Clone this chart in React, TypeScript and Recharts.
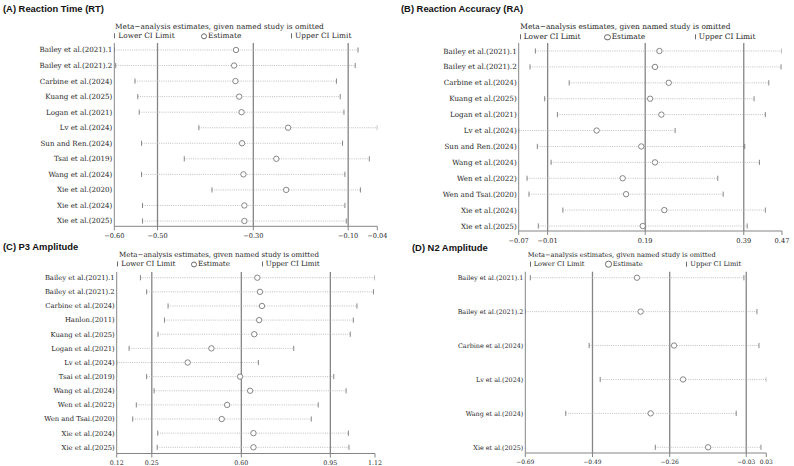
import React from 'react';
import { ScatterChart, Scatter, XAxis, YAxis, ReferenceLine } from 'recharts';

const SERIF = '"DejaVu Serif", serif';
const SANS = '"Liberation Sans", Arial, sans-serif';

// (A) Reaction Time (RT)
const rtStudies = [
  'Bailey et al.(2021).1', 'Bailey et al.(2021).2', 'Carbine et al.(2024)', 'Kuang et al.(2025)',
  'Logan et al.(2021)', 'Lv et al.(2024)', 'Sun and Ren.(2024)', 'Tsai et al.(2019)',
  'Wang et al.(2024)', 'Xie et al.(2020)', 'Xie et al.(2024)', 'Xie et al.(2025)',
];
const rtLower = [-0.596, -0.593, -0.552, -0.546, -0.543, -0.416, -0.538, -0.447, -0.538, -0.388, -0.536, -0.536];
const rtEstimate = [-0.337, -0.341, -0.338, -0.330, -0.325, -0.226, -0.324, -0.251, -0.321, -0.230, -0.319, -0.319];
const rtUpper = [-0.077, -0.083, -0.123, -0.115, -0.107, -0.036, -0.110, -0.053, -0.105, -0.072, -0.105, -0.102];
const rtTicks = [-0.596, -0.504, -0.3, -0.098, -0.036];
const rtTickLabels = ['−0.60', '−0.50', '−0.30', '−0.10', '−0.04'];

// (B) Reaction Accuracy (RA)
const raStudies = [
  'Bailey et al.(2021).1', 'Bailey et al.(2021).2', 'Carbine et al.(2024)', 'Kuang et al.(2025)',
  'Logan et al.(2021)', 'Lv et al.(2024)', 'Sun and Ren.(2024)', 'Wang et al.(2024)',
  'Wen et al.(2022)', 'Wen and Tsai.(2020)', 'Xie et al.(2024)', 'Xie et al.(2025)',
];
const raLower = [-0.034, -0.045, 0.035, -0.015, 0.011, -0.068, -0.030, -0.002, -0.051, -0.047, 0.022, -0.028];
const raEstimate = [0.219, 0.210, 0.238, 0.200, 0.223, 0.091, 0.182, 0.210, 0.144, 0.151, 0.229, 0.185];
const raUpper = [0.469, 0.467, 0.442, 0.412, 0.435, 0.251, 0.393, 0.423, 0.338, 0.349, 0.435, 0.398];
const raTicks = [-0.068, -0.009, 0.19, 0.391, 0.469];
const raTickLabels = ['−0.07', '−0.01', '0.19', '0.39', '0.47'];

// (C) P3 Amplitude
const p3Studies = [
  'Bailey et al.(2021).1', 'Bailey et al.(2021).2', 'Carbine et al.(2024)', 'Hanlon.(2011)',
  'Kuang et al.(2025)', 'Logan et al.(2021)', 'Lv et al.(2024)', 'Tsai et al.(2019)',
  'Wang et al.(2024)', 'Wen et al.(2022)', 'Wen and Tsai.(2020)', 'Xie et al.(2024)', 'Xie et al.(2025)',
];
const p3Lower = [0.209, 0.233, 0.316, 0.302, 0.277, 0.165, 0.117, 0.233, 0.262, 0.193, 0.179, 0.276, 0.274];
const p3Estimate = [0.662, 0.672, 0.680, 0.669, 0.650, 0.484, 0.392, 0.595, 0.634, 0.545, 0.524, 0.647, 0.647];
const p3Upper = [1.118, 1.112, 1.048, 1.034, 1.022, 0.803, 0.666, 0.958, 1.006, 0.898, 0.871, 1.015, 1.017];
const p3Ticks = [0.117, 0.253, 0.6, 0.945, 1.118];
const p3TickLabels = ['0.12', '0.25', '0.60', '0.95', '1.12'];

// (D) N2 Amplitude
const n2Studies = [
  'Bailey et al.(2021).1', 'Bailey et al.(2021).2', 'Carbine et al.(2024)',
  'Lv et al.(2024)', 'Wang et al.(2024)', 'Xie et al.(2025)',
];
const n2Lower = [-0.677, -0.692, -0.501, -0.468, -0.571, -0.303];
const n2Estimate = [-0.358, -0.347, -0.247, -0.220, -0.317, -0.145];
const n2Upper = [-0.038, 0.001, 0.007, 0.029, -0.061, 0.013];
const n2Ticks = [-0.692, -0.491, -0.26, -0.031, 0.029];
const n2TickLabels = ['−0.69', '−0.49', '−0.26', '−0.03', '0.03'];

type Box = { x: number; y: number; w: number; h: number };
type Plot = { l: number; r: number; t: number; b: number };
type Leg = { tx: number; ty: number; iy: number; lo: number; es: number; up: number };

type PanelProps = {
  title: string;
  titleX: number;
  titleY: number;
  studies: string[];
  lower: number[];
  estimate: number[];
  upper: number[];
  ticks: number[];
  tickLabels: string[];
  box: Box;
  plot: Plot;
  pad: { top: number; bottom: number };
  leg: Leg;
  fs: number;
};

const LINE = '#858585';
const MARK = '#6a6a6a';
const TEXT = '#262626';

const LimitMark = (props: any) => {
  const { cx, cy } = props;
  return <line x1={cx} x2={cx} y1={cy - 2.6} y2={cy + 2.6} stroke={MARK} strokeWidth={0.8} />;
};

const EstMark = (props: any) => {
  const { cx, cy } = props;
  return <circle cx={cx} cy={cy} r={2.7} fill="#fff" stroke={MARK} strokeWidth={0.8} />;
};

function Panel(p: PanelProps) {
  const { box, plot, studies } = p;
  const rows = studies.map((s, i) => ({ s, i }));
  const lowPts = p.lower.map((x, i) => ({ x, y: i }));
  const estPts = p.estimate.map((x, i) => ({ x, y: i }));
  const upPts = p.upper.map((x, i) => ({ x, y: i }));
  const legFs = p.fs * 1.04;

  const StudyTick = (t: any) => (
    <text
      x={plot.l - box.x - 2}
      y={t.y}
      dy="0.35em"
      textAnchor="end"
      fontFamily={SERIF}
      fontSize={p.fs}
      fill={TEXT}
    >
      {studies[t.payload.value]}
    </text>
  );

  return (
    <>
      <div
        style={{
          position: 'absolute', left: p.titleX, top: p.titleY, transform: 'translateY(-50%)',
          fontFamily: SANS, fontWeight: 700, fontSize: 9.4, color: '#111', whiteSpace: 'nowrap', lineHeight: 1,
        }}
      >
        {p.title}
      </div>
      <div style={{ position: 'absolute', left: box.x, top: box.y }}>
        <ScatterChart
          width={box.w}
          height={box.h}
          margin={{ top: plot.t - box.y, right: box.x + box.w - plot.r, left: 0, bottom: 0 }}
        >
          <XAxis
            type="number"
            dataKey="x"
            domain={[p.ticks[0], p.ticks[p.ticks.length - 1]]}
            ticks={p.ticks}
            tickFormatter={(_v: number, i: number) => p.tickLabels[i]}
            interval={0}
            height={box.y + box.h - plot.b}
            axisLine={{ stroke: LINE, strokeWidth: 1 }}
            tickLine={{ stroke: LINE }}
            tickSize={4}
            tickMargin={3}
            tick={{ fontFamily: SERIF, fontSize: p.fs * 0.93, fill: TEXT }}
            allowDataOverflow
          />
          <YAxis
            type="number"
            dataKey="y"
            domain={[0, studies.length - 1]}
            ticks={rows.map((r) => r.i)}
            interval={0}
            reversed
            width={plot.l - box.x}
            padding={p.pad}
            axisLine={{ stroke: LINE, strokeWidth: 1 }}
            tickLine={false}
            tick={StudyTick}
          />
          {p.ticks.slice(1, -1).map((v) => (
            <ReferenceLine key={'r' + v} x={v} stroke={LINE} strokeWidth={1.3} />
          ))}
          {rows.map((r) => (
            <ReferenceLine
              key={'s' + r.i}
              segment={[{ x: p.lower[r.i], y: r.i }, { x: p.upper[r.i], y: r.i }]}
              stroke="#b0b0b0"
              strokeWidth={0.8}
              strokeDasharray="1 1.2"
              ifOverflow="visible"
            />
          ))}
          <Scatter data={lowPts} shape={LimitMark} isAnimationActive={false} />
          <Scatter data={upPts} shape={LimitMark} isAnimationActive={false} />
          <Scatter data={estPts} shape={EstMark} isAnimationActive={false} />
        </ScatterChart>
      </div>
      <div
        style={{
          position: 'absolute', left: p.leg.tx, top: p.leg.ty, transform: 'translateY(-50%)',
          fontFamily: SERIF, fontSize: legFs, color: TEXT, whiteSpace: 'nowrap', lineHeight: 1,
        }}
      >
        Meta−analysis estimates, given named study is omitted
      </div>
      {[
        { x: p.leg.lo, label: 'Lower CI Limit', bar: true },
        { x: p.leg.es, label: 'Estimate', bar: false },
        { x: p.leg.up, label: 'Upper CI Limit', bar: true },
      ].map((it) => (
        <div
          key={it.label}
          style={{
            position: 'absolute', left: it.x, top: p.leg.iy, transform: 'translateY(-50%)',
            display: 'flex', alignItems: 'center', fontFamily: SERIF, fontSize: legFs, color: TEXT,
            whiteSpace: 'nowrap', lineHeight: 1,
          }}
        >
          {it.bar ? (
            <span style={{ display: 'inline-block', width: 0, height: 5, borderLeft: `0.8px solid ${MARK}`, marginRight: 3 }} />
          ) : (
            <span
              style={{
                display: 'inline-block', width: 4.4, height: 4.4, borderRadius: '50%',
                border: `0.8px solid ${MARK}`, marginRight: 1,
              }}
            />
          )}
          {it.label}
        </div>
      ))}
    </>
  );
}

export default function App() {
  return (
    <div
      style={{
        position: 'absolute', left: 0, top: 0, width: 794, height: 466, overflow: 'hidden', background: '#fff',
      }}
    >
      <Panel
        title="(A) Reaction Time (RT)"
        titleX={3}
        titleY={9}
        studies={rtStudies}
        lower={rtLower}
        estimate={rtEstimate}
        upper={rtUpper}
        ticks={rtTicks}
        tickLabels={rtTickLabels}
        box={{ x: 0, y: 0, w: 397, h: 245 }}
        plot={{ l: 114.3, r: 377.3, t: 43, b: 226.3 }}
        pad={{ top: 7, bottom: 5.3 }}
        leg={{ tx: 115, ty: 26.7, iy: 36, lo: 114.3, es: 200.7, up: 291 }}
        fs={7.1}
      />
      <Panel
        title="(B) Reaction Accuracy (RA)"
        titleX={401}
        titleY={9}
        studies={raStudies}
        lower={raLower}
        estimate={raEstimate}
        upper={raUpper}
        ticks={raTicks}
        tickLabels={raTickLabels}
        box={{ x: 397, y: 0, w: 397, h: 245 }}
        plot={{ l: 518.7, r: 782, t: 43, b: 231 }}
        pad={{ top: 8, bottom: 5 }}
        leg={{ tx: 520.3, ty: 27, iy: 37, lo: 519.7, es: 604.3, up: 694.7 }}
        fs={7.15}
      />
      <Panel
        title="(C) P3 Amplitude"
        titleX={3}
        titleY={246.5}
        studies={p3Studies}
        lower={p3Lower}
        estimate={p3Estimate}
        upper={p3Upper}
        ticks={p3Ticks}
        tickLabels={p3TickLabels}
        box={{ x: 0, y: 233, w: 397, h: 233 }}
        plot={{ l: 116.7, r: 375, t: 272, b: 453.5 }}
        pad={{ top: 5.7, bottom: 6.2 }}
        leg={{ tx: 119, ty: 255, iy: 264.3, lo: 117.3, es: 190.7, up: 261.7 }}
        fs={6.8}
      />
      <Panel
        title="(D) N2 Amplitude"
        titleX={412}
        titleY={247.5}
        studies={n2Studies}
        lower={n2Lower}
        estimate={n2Estimate}
        upper={n2Upper}
        ticks={n2Ticks}
        tickLabels={n2TickLabels}
        box={{ x: 397, y: 233, w: 397, h: 233 }}
        plot={{ l: 525.3, r: 766.3, t: 271.7, b: 453 }}
        pad={{ top: 6, bottom: 5.7 }}
        leg={{ tx: 527.7, ty: 255, iy: 264.3, lo: 529.7, es: 605.3, up: 686.3 }}
        fs={6.4}
      />
    </div>
  );
}
